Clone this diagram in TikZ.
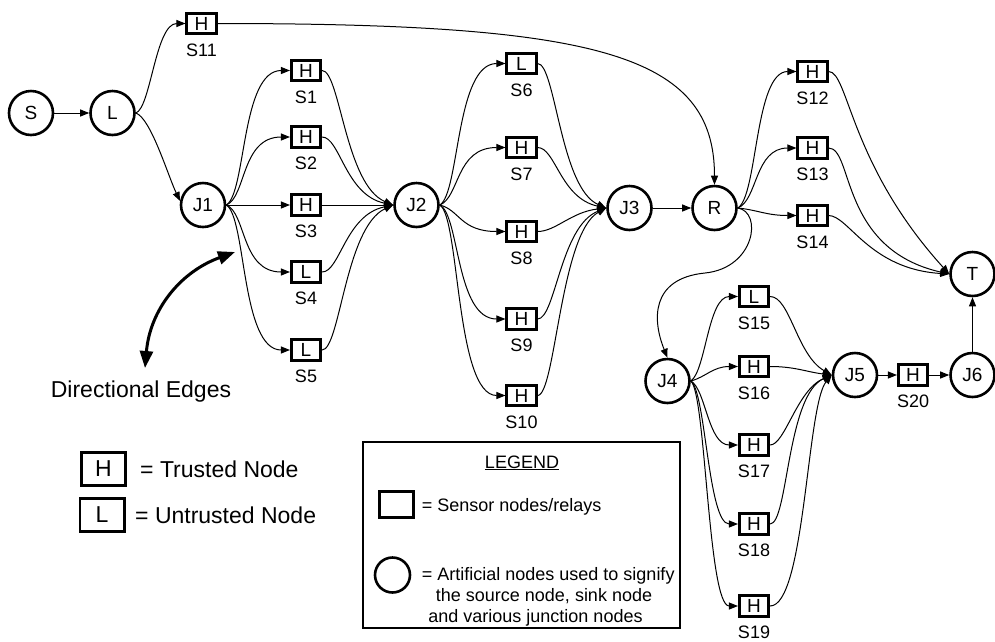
\documentclass[tikz,border=0pt]{standalone}
\usepackage{fontspec}
\setmainfont{Liberation Sans}
\usetikzlibrary{arrows.meta}
\tikzset{
  sbox/.style={draw, line width=2.6pt, minimum width=29.5pt, minimum height=20.5pt, inner sep=0pt, font=\fontsize{19}{19}\selectfont},
  cnode/.style={draw, circle, line width=2.6pt, minimum size=44pt, inner sep=0pt, font=\fontsize{19}{19}\selectfont},
  slabel/.style={anchor=base, inner sep=0pt, font=\fontsize{18}{18}\selectfont},
  edge/.style={line width=1pt, -{Triangle[length=9pt,width=7pt]}},
  lbox/.style={draw, line width=2.6pt, minimum width=44.4pt, minimum height=33.4pt, inner sep=0pt, font=\fontsize{23}{23}\selectfont},
  ltext/.style={inner sep=0pt, font=\fontsize{23}{23}\selectfont},
  gtext/.style={inner sep=0pt, font=\fontsize{18}{18}\selectfont},
  bigarrow/.style={line width=3pt, {Triangle[length=17pt,width=13pt]}-{Triangle[length=17pt,width=13pt]}}
}
\newcommand\mysensor[5]{%
  \node[sbox] (#1) at (#2,#3) {#4};
  \node[slabel, yshift=-32.5pt] (#1-lab) at (#1.center) {#5};}
\begin{document}
\begin{tikzpicture}[x=1pt,y=-1pt]
\useasboundingbox (0,0) rectangle (995,641);
% circles
\node[cnode] (S) at (31,113) {S};
\node[cnode] (L) at (112.5,113) {L};
\node[cnode] (J1) at (203,205) {J1};
\node[cnode] (J2) at (416.5,205) {J2};
\node[cnode] (J3) at (629.5,208) {J3};
\node[cnode] (R) at (714.5,208) {R};
\node[cnode] (T) at (972.5,274) {T};
\node[cnode] (J4) at (667.5,381) {J4};
\node[cnode] (J5) at (855,375) {J5};
\node[cnode] (J6) at (972.5,375) {J6};
% sensors
\mysensor{s11}{201.5}{23.5}{H}{S11}
\mysensor{s1}{306}{70.5}{H}{S1}
\mysensor{s2}{306}{137}{H}{S2}
\mysensor{s3}{306}{205}{H}{S3}
\mysensor{s4}{306}{272}{L}{S4}
\mysensor{s5}{306}{350}{L}{S5}
\mysensor{s6}{521.5}{63.5}{L}{S6}
\mysensor{s7}{521.5}{147.5}{H}{S7}
\mysensor{s8}{521.5}{231.5}{H}{S8}
\mysensor{s9}{521.5}{319}{H}{S9}
\mysensor{s10}{521.5}{395.5}{H}{S10}
\mysensor{s12}{812.5}{71.5}{H}{S12}
\mysensor{s13}{812.5}{148}{H}{S13}
\mysensor{s14}{812.5}{215.5}{H}{S14}
\mysensor{s15}{754}{296.5}{L}{S15}
\mysensor{s16}{754}{366.5}{H}{S16}
\mysensor{s17}{754}{445}{H}{S17}
\mysensor{s18}{754}{524}{H}{S18}
\mysensor{s19}{754}{606}{H}{S19}
\mysensor{s20}{913}{375}{H}{S20}
% edges
\draw[edge] (S) -- (L);
\draw[edge] (L.east) .. controls +(15,-5) and +(-30,0) .. (s11.west);
\draw[edge] (L.east) .. controls +(15,5) and +(-12,-25) .. (J1.170);
\draw[edge] (J1.east) .. controls +(20,-12) and +(-49,0) .. (s1.west);
\draw[edge] (J1.east) .. controls +(20,-8) and +(-49,0) .. (s2.west);
\draw[edge] (J1.east) -- (s3.west);
\draw[edge] (J1.east) .. controls +(20,8) and +(-49,0) .. (s4.west);
\draw[edge] (J1.east) .. controls +(20,12) and +(-49,0) .. (s5.west);
\draw[edge] (s1.east) .. controls +(18,0) and +(-48,-20) .. (J2.west);
\draw[edge] (s2.east) .. controls +(18,0) and +(-48,-10) .. (J2.west);
\draw[edge] (s3.east) -- (J2.west);
\draw[edge] (s4.east) .. controls +(18,0) and +(-48,10) .. (J2.west);
\draw[edge] (s5.east) .. controls +(18,0) and +(-48,22) .. (J2.west);
\draw[edge] (J2.east) .. controls +(20,-12) and +(-50,0) .. (s6.west);
\draw[edge] (J2.east) .. controls +(20,-8) and +(-50,0) .. (s7.west);
\draw[edge] (J2.east) .. controls +(20,5) and +(-45,0) .. (s8.west);
\draw[edge] (J2.east) .. controls +(20,10) and +(-50,0) .. (s9.west);
\draw[edge] (J2.east) .. controls +(20,12) and +(-50,0) .. (s10.west);
\draw[edge] (s6.east) .. controls +(18,0) and +(-46,-20) .. (J3.west);
\draw[edge] (s7.east) .. controls +(18,0) and +(-46,-10) .. (J3.west);
\draw[edge] (s8.east) .. controls +(18,0) and +(-35,4) .. (J3.west);
\draw[edge] (s9.east) .. controls +(18,0) and +(-46,18) .. (J3.west);
\draw[edge] (s10.east) .. controls +(18,0) and +(-46,25) .. (J3.west);
\draw[edge] (J3) -- (R);
\draw[edge] (s11.east) .. controls +(382,0) and +(0,-130) .. (R.north);
\draw[edge] (R.east) .. controls +(20,-12) and +(-42,0) .. (s12.west);
\draw[edge] (R.east) .. controls +(20,-8) and +(-42,0) .. (s13.west);
\draw[edge] (R.east) .. controls +(20,2) and +(-30,0) .. (s14.west);
\draw[edge] (s12.east) .. controls +(20,0) and +(-100,-110) .. (T.west);
\draw[edge] (s13.east) .. controls +(25,0) and +(-110,-25) .. (T.west);
\draw[edge] (s14.east) .. controls +(20,0) and +(-80,-5) .. (T.west);
\coordinate (rj) at (705,273);
\draw[edge] (R.east) .. controls +(25,4) and +(50,-5) .. (rj) .. controls +(-55,5.5) and +(-15,-37) .. (J4.north);
\draw[edge] (J4.east) .. controls +(15,-10) and +(-30,0) .. (s15.west);
\draw[edge] (J4.east) .. controls +(15,-4) and +(-25,0) .. (s16.west);
\draw[edge] (J4.east) .. controls +(15,8) and +(-30,0) .. (s17.west);
\draw[edge] (J4.east) .. controls +(15,10) and +(-30,0) .. (s18.west);
\draw[edge] (J4.east) .. controls +(15,12) and +(-30,0) .. (s19.west);
\draw[edge] (s15.east) .. controls +(20,0) and +(-35,-20) .. (J5.west);
\draw[edge] (s16.east) .. controls +(25,0) and +(-25,-3) .. (J5.west);
\draw[edge] (s17.east) .. controls +(15,0) and +(-35,15) .. (J5.west);
\draw[edge] (s18.east) .. controls +(18,0) and +(-45,20) .. (J5.west);
\draw[edge] (s19.east) .. controls +(35,0) and +(-25,30) .. (J5.west);
\draw[edge] (J5) -- (s20);
\draw[edge] (s20) -- (J6);
\draw[edge] (J6) -- (T);
% directional edges annotation
\coordinate (de1) at (235,252);
\coordinate (de2) at (145,368);
\draw[bigarrow] (de1) .. controls (180,272) and (150,310) .. (de2);
\node[ltext, anchor=base] (detext) at (141,397) {Directional Edges};
% left legend
\node[lbox] (lh) at (103.5,469) {H};
\node[ltext, anchor=base west] (lht) at (140,477) {= Trusted Node};
\node[lbox] (ll) at (102,515) {L};
\node[ltext, anchor=base west] (llt) at (135,523) {= Untrusted Node};
% legend box
\node[draw, line width=1.2pt, minimum width=317pt, minimum height=186pt, inner sep=0pt] (legend) at (521.5,535) {};
\node[gtext, anchor=base] (legt) at (522,468) {\underline{LEGEND}};
\node[draw, line width=2.6pt, minimum width=34.4pt, minimum height=26.4pt, inner sep=0pt] (legsq) at (396.5,504.5) {};
\node[gtext, anchor=base west] (legsqt) at (421.7,511.5) {= Sensor nodes/relays};
\node[draw, circle, line width=2.6pt, minimum size=35pt, inner sep=0pt] (legci) at (392.5,575) {};
\node[gtext, anchor=base west] (legc1) at (421.7,580) {= Artificial nodes used to signify};
\node[gtext, anchor=base] (legc2) at (544,601) {the source node, sink node};
\node[gtext, anchor=base] (legc3) at (535.5,622) {and various junction nodes};
\end{tikzpicture}
\end{document}
